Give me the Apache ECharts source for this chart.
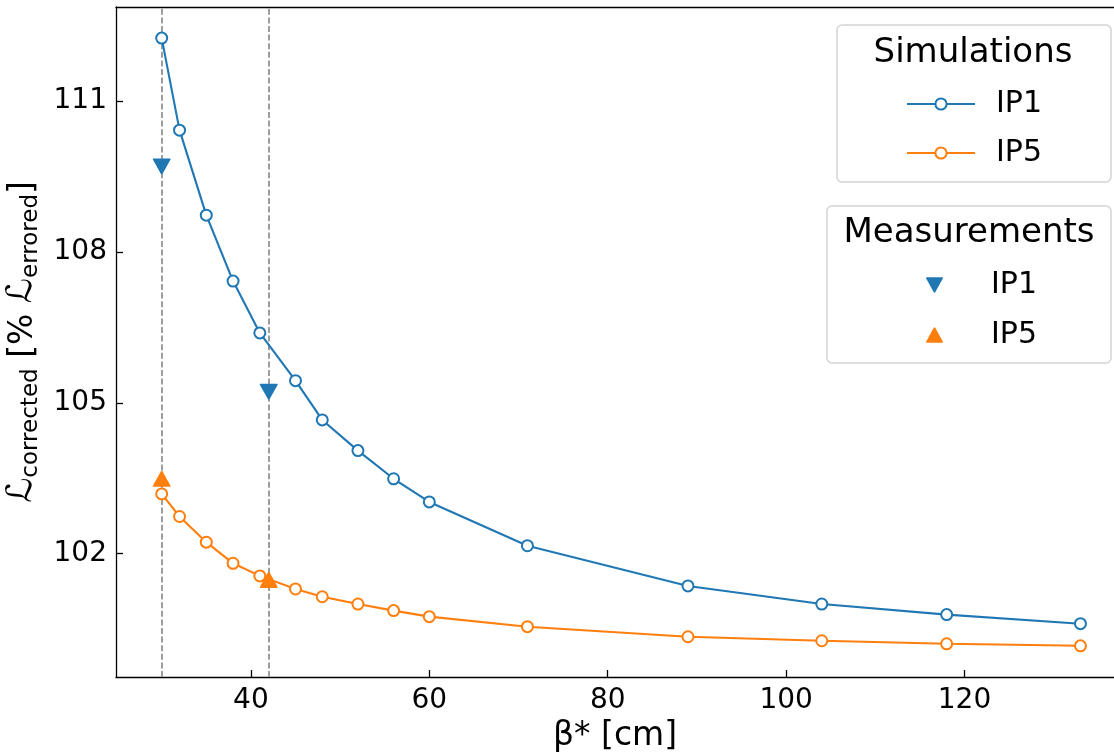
<!DOCTYPE html>
<html>
<head>
<meta charset="utf-8">
<script src="https://cdn.jsdelivr.net/npm/echarts@6/dist/echarts.min.js"></script>
<style>html,body{margin:0;padding:0;background:#fff;}#c{width:1114px;height:753px;}</style>
</head>
<body>
<div id="c"></div>
<script>
// ---- data ----
const beta = [30, 32, 35, 38, 41, 45, 48, 52, 56, 60, 71, 89, 104, 118, 133];
const ip1Sim = [112.25, 110.42, 108.73, 107.42, 106.39, 105.44, 104.66, 104.05, 103.49, 103.03, 102.16, 101.36, 101.00, 100.79, 100.61];
const ip5Sim = [103.19, 102.74, 102.23, 101.81, 101.56, 101.30, 101.145, 101.00, 100.87, 100.75, 100.55, 100.35, 100.27, 100.21, 100.17];
const measBeta = [30, 42];
const ip1Meas = [109.70, 105.22];
const ip5Meas = [103.49, 101.48];
const xTicks = [40, 60, 80, 100, 120];
const yTicks = [102, 105, 108, 111];
const vLines = [30, 42];

const C1 = '#1f77b4', C5 = '#ff7f0e';
const FONT = 'DejaVu Sans';
const zip = (a, b) => a.map((v, i) => [v, b[i]]);
const DOWN_TRI = 'path://M1,0 L15,0 Q16,0 15.5,1 L8.8,13.2 Q8,14.4 7.2,13.2 L0.5,1 Q0,0 1,0 Z';
const UP_TRI = 'path://M7.2,0.8 Q8,-0.4 8.8,0.8 L15.5,13 Q16,14 15,14 L1,14 Q0,14 0.5,13 Z';

const chart = echarts.init(document.getElementById('c'), null, {renderer: 'canvas'});
const option = {
  backgroundColor: '#fff',
  animation: false,
  textStyle: {fontFamily: FONT},
  grid: {left: 116, top: 7, right: 0, bottom: 76, containLabel: false, outerBoundsMode: 'none'},
  xAxis: [{
    type: 'value', min: 24.877, max: 136.76,
    axisLine: {show: true, onZero: false, lineStyle: {color: '#000', width: 1.3}},
    axisTick: {show: true, inside: true, length: 7, customValues: xTicks, lineStyle: {color: '#000', width: 1.3}},
    axisLabel: {customValues: xTicks, fontSize: 28, color: '#000', margin: 10, fontFamily: FONT},
    splitLine: {show: false},
    name: 'β* [cm]', nameLocation: 'middle', nameGap: 43,
    nameTextStyle: {fontSize: 33, color: '#000', fontFamily: FONT}
  }, {
    type: 'value', position: 'top', min: 24.877, max: 136.76,
    axisLine: {show: true, onZero: false, lineStyle: {color: '#000', width: 1.3}},
    axisTick: {show: false}, axisLabel: {show: false}, splitLine: {show: false}
  }],
  yAxis: [{
    type: 'value', min: 99.55, max: 112.868,
    axisLine: {show: true, onZero: false, lineStyle: {color: '#000', width: 1.3}},
    axisTick: {show: true, inside: true, length: 7, customValues: yTicks, lineStyle: {color: '#000', width: 1.3}},
    axisLabel: {customValues: yTicks, fontSize: 28, color: '#000', margin: 9, fontFamily: FONT},
    splitLine: {show: false},
    name: '{L|ℒ}{sub|corrected}{m| [% }{L|ℒ}{sub|errored}{m|]}',
    nameLocation: 'middle', nameRotate: 90, nameGap: 64,
    nameTextStyle: {
      color: '#000', fontFamily: FONT,
      rich: {
        L: {fontSize: 35, fontFamily: FONT, color: '#000', lineHeight: 42, verticalAlign: 'bottom'},
        m: {fontSize: 33, fontFamily: FONT, color: '#000', lineHeight: 42, verticalAlign: 'bottom'},
        sub: {fontSize: 23, fontFamily: FONT, color: '#000', lineHeight: 42, verticalAlign: 'bottom', padding: [0, 0, -3, 0]}
      }
    }
  }],
  legend: [{
    orient: 'vertical', left: 901, top: 84, itemGap: 19,
    itemWidth: 68, itemHeight: 14,
    data: ['IP1 ', 'IP5 '],
    textStyle: {fontSize: 30, color: '#000', fontFamily: FONT, padding: [0, 0, 0, 16]},
    formatter: n => n.trim()
  }, {
    orient: 'vertical', left: 921, top: 265, itemGap: 20,
    itemWidth: 17, itemHeight: 16,
    data: [{name: 'IP1', icon: DOWN_TRI}, {name: 'IP5', icon: UP_TRI}],
    textStyle: {fontSize: 30, color: '#000', fontFamily: FONT, padding: [0, 0, 0, 43]}
  }],
  graphic: [
    {type: 'rect', z: -1, shape: {x: 837, y: 25, width: 274, height: 157, r: 5},
     style: {fill: 'rgba(255,255,255,0.8)', stroke: '#d4d4d4', lineWidth: 1.5}},
    {type: 'rect', z: -1, shape: {x: 827, y: 206, width: 284, height: 157, r: 5},
     style: {fill: 'rgba(255,255,255,0.8)', stroke: '#d4d4d4', lineWidth: 1.5}},
    {type: 'text', x: 973, y: 53, style: {text: 'Simulations', font: '34px "DejaVu Sans"', fill: '#000', textAlign: 'center', textVerticalAlign: 'middle'}},
    {type: 'text', x: 969, y: 233, style: {text: 'Measurements', font: '34px "DejaVu Sans"', fill: '#000', textAlign: 'center', textVerticalAlign: 'middle'}}
  ],
  series: [
    {
      name: 'IP1 ', type: 'line', data: zip(beta, ip1Sim), z: 3,
      symbol: 'emptyCircle', symbolSize: 11,
      lineStyle: {color: C1, width: 2.1},
      itemStyle: {color: C1, borderColor: C1, borderWidth: 1.7},
      markLine: {
        silent: true, symbol: 'none', label: {show: false}, z: 1,
        lineStyle: {color: '#999', type: [6, 2.6], width: 1.9},
        data: vLines.map(v => ({xAxis: v}))
      }
    },
    {
      name: 'IP5 ', type: 'line', data: zip(beta, ip5Sim), z: 3,
      symbol: 'emptyCircle', symbolSize: 11,
      lineStyle: {color: C5, width: 2.1},
      itemStyle: {color: C5, borderColor: C5, borderWidth: 1.7}
    },
    {
      name: 'IP1', type: 'scatter', data: zip(measBeta, ip1Meas), z: 4,
      symbol: DOWN_TRI, symbolSize: [18, 16],
      itemStyle: {color: C1, opacity: 1}
    },
    {
      name: 'IP5', type: 'scatter', data: zip(measBeta, ip5Meas), z: 4,
      symbol: UP_TRI, symbolSize: [18, 16],
      itemStyle: {color: C5, opacity: 1}
    }
  ]
};
chart.setOption(option);
</script>
</body>
</html>
